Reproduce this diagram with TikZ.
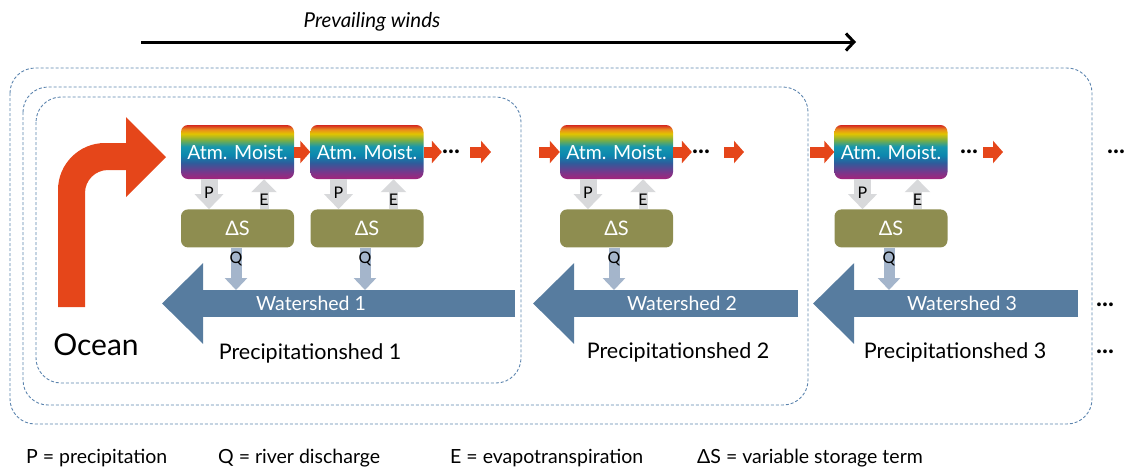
\documentclass[tikz,border=0pt]{standalone}
\usepackage{fontspec}
\setmainfont{Lato}
\usetikzlibrary{arrows.meta,positioning}
\definecolor{boxline}{HTML}{5C84AE}
\definecolor{hot}{HTML}{E5461A}
\definecolor{soil}{HTML}{8E8D50}
\definecolor{river}{HTML}{577C9F}
\definecolor{flux}{HTML}{D8D9DB}
\definecolor{runoff}{HTML}{A4B5CB}
\definecolor{rbA}{HTML}{A3237B}
\definecolor{rbB}{HTML}{74398C}
\definecolor{rbC}{HTML}{2E5C9B}
\definecolor{rbD}{HTML}{0C87AE}
\definecolor{rbE}{HTML}{1697AE}
\definecolor{rbF}{HTML}{79AE45}
\definecolor{rbG}{HTML}{E2C400}
\definecolor{rbH}{HTML}{E98A1E}
\definecolor{rbI}{HTML}{D4281F}
\pgfdeclareverticalshading{rainbow}{100bp}{color(0bp)=(rbA); color(25bp)=(rbA);
  color(32bp)=(rbB); color(40bp)=(rbC); color(47bp)=(rbD); color(55bp)=(rbE);
  color(61bp)=(rbF); color(67bp)=(rbG); color(71bp)=(rbH); color(75bp)=(rbI); color(100bp)=(rbI)}
\tikzset{
  moist/.style={shade,shading=rainbow,rounded corners=7pt,minimum width=113pt,minimum height=54pt,
    inner sep=0pt,text=white,font=\fontsize{19.5}{21}\selectfont},
  store/.style={fill=soil,rounded corners=7pt,minimum width=113pt,minimum height=38pt,
    inner sep=0pt,text=white,font=\fontsize{20}{22}\selectfont},
  shedbox/.style={draw=boxline,line width=0.9pt,dash pattern=on 3pt off 2pt,rounded corners=25pt},
  wind/.style={hot,line width=11pt,-{Triangle[width=22pt,length=10pt]}},
  rain/.style={flux,line width=17pt,-{Triangle[width=28pt,length=15pt]}},
  evap/.style={flux,line width=9pt,-{Triangle[width=25pt,length=13pt]}},
  flow/.style={runoff,line width=11pt,-{Triangle[width=22pt,length=12pt]}},
  stream/.style={river,line width=27pt,-{Triangle[width=78pt,length=41pt]}},
  flab/.style={text=black,font=\fontsize{16}{18}\selectfont,inner sep=0pt},
  dots/.style={font=\fontsize{25}{27}\selectfont\bfseries,inner sep=0pt},
  shedlab/.style={font=\fontsize{21.5}{24}\selectfont},
  legend/.style={anchor=west,inner sep=0pt,font=\fontsize{19.5}{22}\selectfont}
}
\begin{document}
\begin{tikzpicture}[x=1pt,y=-1pt]
\useasboundingbox (0,0) rectangle (1126,472);
\node[font=\fontsize{20.5}{22}\selectfont\itshape] (winds) at (372,22) {Prevailing winds};
\coordinate (wa) at (141,42);
\coordinate (wb) at (856,42);
\draw[line width=3pt,-{Straight Barb[length=8pt,width=17pt]}] (wa) -- (wb);
\draw[shedbox] (10,68) rectangle (1092,424);
\draw[shedbox] (23,87) rectangle (808,405);
\draw[shedbox] (36,97) rectangle (521,383);
\fill[hot] (58,307) -- (58,190) arc[start angle=180,end angle=270,radius=47] -- (126,143)
  -- (126,117) -- (166,157) -- (126,197) -- (126,170) -- (108,170)
  arc[start angle=270,end angle=180,radius=23] -- (85,307) -- cycle;
\node[font=\fontsize{30}{32}\selectfont] (ocean) at (96,345) {Ocean};
\node[moist] (m1) at (237.5,152) {Atm. Moist.};
\node[moist] (m2) at (367,152) {Atm. Moist.};
\node[moist] (m3) at (616.5,152) {Atm. Moist.};
\node[moist] (m4) at (891,152) {Atm. Moist.};
\node[store,below=30pt of m1] (s1) {ΔS};
\node[store,below=30pt of m2] (s2) {ΔS};
\node[store,below=30pt of m3] (s3) {ΔS};
\node[store,below=30pt of m4] (s4) {ΔS};
\foreach \i in {1,2,3,4}{
  \draw[rain] ([xshift=-28.5pt]m\i.south) -- ([xshift=-28.5pt]s\i.north) node[flab,pos=0.45] {P};
  \draw[evap] ([xshift=26.5pt]s\i.north) -- ([xshift=26.5pt]m\i.south) node[flab,pos=0.3] {E};
}
\coordinate (t1) at (515,303.5);
\coordinate (h1) at (162,303.5);
\coordinate (t2) at (798,303.5);
\coordinate (h2) at (533,303.5);
\coordinate (t3) at (1078,303.5);
\coordinate (h3) at (813,303.5);
\foreach \i in {1,2,3} \draw[stream] (t\i) -- (h\i);
\coordinate (q1) at (236,290);
\coordinate (q2) at (365,290);
\coordinate (q3) at (614,290);
\coordinate (q4) at (889,290);
\foreach \i in {1,2,3,4}
  \draw[flow] (s\i.south -| q\i) -- (q\i) node[flab,pos=0.27] {Q};
\node[text=white,font=\fontsize{19.5}{21}\selectfont] (w1) at (311,303) {Watershed 1};
\node[text=white,font=\fontsize{19.5}{21}\selectfont] (w2) at (682,303) {Watershed 2};
\node[text=white,font=\fontsize{19.5}{21}\selectfont] (w3) at (962,303) {Watershed 3};
\node[shedlab] (ps1) at (310,353) {Precipitationshed 1};
\node[shedlab] (ps2) at (678,352) {Precipitationshed 2};
\node[shedlab] (ps3) at (955,352) {Precipitationshed 3};
\node[dots] (d2) at (451,152) {...};
\node[dots] (d3) at (701,152) {...};
\node[dots] (d4) at (969,152) {...};
\node[dots] (d5) at (1116,152) {...};
\node[dots] (d6) at (1105,305) {...};
\node[dots] (d7) at (1105,352) {...};
\coordinate (a2) at (470,152);
\coordinate (b2) at (491,152);
\coordinate (a3) at (539,152);
\coordinate (a4) at (724,152);
\coordinate (b4) at (744,152);
\coordinate (a5) at (810,152);
\coordinate (a6) at (983,152);
\coordinate (b6) at (1003,152);
\draw[wind] (m1.east) -- (m2.west);
\draw[wind] (m2.east) -- (d2.west |- m2.east);
\draw[wind] (a2) -- (b2);
\draw[wind] (a3) -- (m3.west);
\draw[wind] (m3.east) -- (d3.west |- m3.east);
\draw[wind] (a4) -- (b4);
\draw[wind] (a5) -- (m4.west);
\draw[wind] (a6) -- (b6);
\node[legend] (lp) at (26,458) {P = precipitation};
\node[legend] (lq) at (218,458) {Q = river discharge};
\node[legend] (le) at (450,458) {E = evapotranspiration};
\node[legend] (ls) at (697,458) {ΔS = variable storage term};
\end{tikzpicture}
\end{document}
